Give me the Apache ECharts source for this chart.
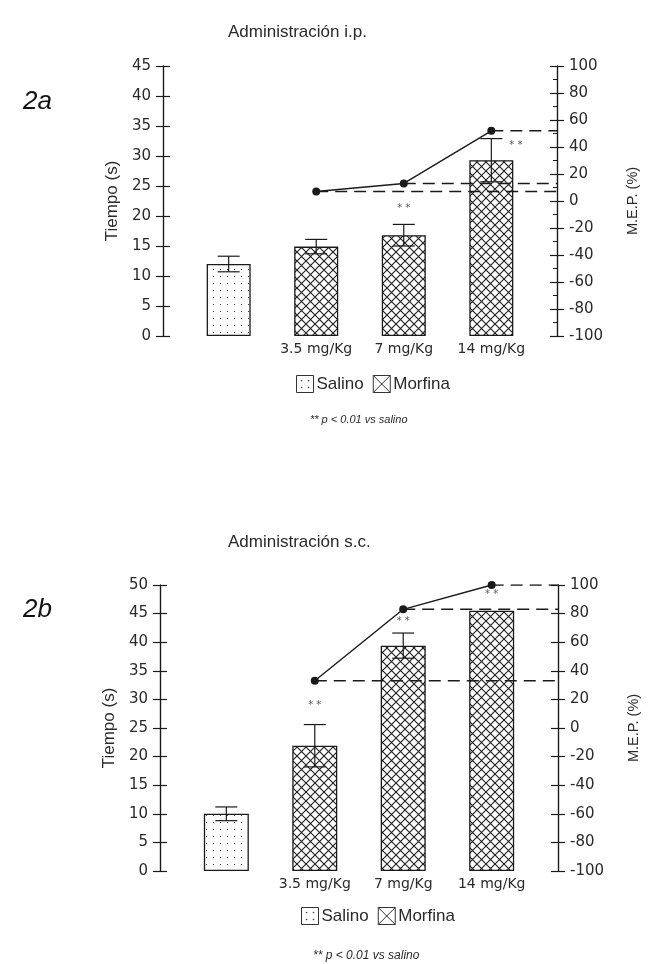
<!DOCTYPE html>
<html>
<head>
<meta charset="utf-8">
<script src="https://cdn.jsdelivr.net/npm/echarts@6/dist/echarts.min.js"></script>
<style>
  html, body { margin: 0; padding: 0; background: #fff; }
  #main { width: 649px; height: 964px; }
</style>
</head>
<body>
<div id="main"></div>
<script>
// dosis (eje x)
const doses = ['', '3.5 mg/Kg', '7 mg/Kg', '14 mg/Kg'];
const xPos = [1, 2, 3, 4];
const xMin = 0.25, xMax = 4.75;

// 2a - administración i.p.
const ipMean = [12.0, 14.9, 16.8, 29.3];
const ipSem = [1.3, 1.2, 1.8, 3.6];
const ipMep = [null, 7, 13, 52];
const ipSig = [[3, 21.2], [4.28, 31.8]];

// 2b - administración s.c.
const scMean = [10.0, 21.9, 39.4, 45.5];
const scSem = [1.2, 3.7, 2.2, null];
const scMep = [null, 33, 83, 100];
const scSig = [[2, 28.9], [3, 43.7], [4, 48.4]];

// escalas
const ipTiempo = {min: 0, max: 45, interval: 5};
const scTiempo = {min: 0, max: 50, interval: 5};
const mepAxis = {min: -100, max: 100, interval: 20};

const INK = '#1a1a1a';
const TXT = '#2a2a2a';

// tramas de relleno
function hatch() {
  const c = document.createElement('canvas');
  c.width = c.height = 9;
  const ctx = c.getContext('2d');
  ctx.fillStyle = '#fff';
  ctx.fillRect(0, 0, 9, 9);
  ctx.strokeStyle = '#1e1e1e';
  ctx.lineWidth = 1.1;
  ctx.beginPath();
  ctx.moveTo(-1, -1); ctx.lineTo(10, 10);
  ctx.moveTo(10, -1); ctx.lineTo(-1, 10);
  ctx.stroke();
  return c;
}
function dots() {
  const c = document.createElement('canvas');
  c.width = c.height = 7;
  const ctx = c.getContext('2d');
  ctx.fillStyle = '#fff';
  ctx.fillRect(0, 0, 7, 7);
  ctx.fillStyle = '#444';
  ctx.fillRect(3, 3, 1, 1);
  return c;
}
const morfinaFill = {image: hatch(), repeat: 'repeat'};
const salinoFill = {image: dots(), repeat: 'repeat'};

function yAxes(g, tiempo, minor) {
  const common = {
    gridIndex: g, type: 'value',
    splitLine: {show: false},
    axisLine: {show: true, lineStyle: {color: INK, width: 1.2}},
    axisTick: {show: true, length: 7, lineStyle: {color: INK, width: 1.2}},
    axisLabel: {color: TXT, fontFamily: 'DejaVu Sans', fontSize: 15, margin: 12}
  };
  return [
    Object.assign({}, common, tiempo, {
      position: 'left', name: 'Tiempo (s)', nameLocation: 'middle', nameGap: 42, nameRotate: 90,
      nameTextStyle: {color: TXT, fontFamily: 'Liberation Sans', fontSize: 17}
    }),
    Object.assign({}, common, tiempo, {
      position: 'left', axisTick: {show: true, inside: true, length: 7, lineStyle: {color: INK, width: 1.2}},
      axisLabel: {show: false}
    }),
    Object.assign({}, common, mepAxis, {
      position: 'right', name: 'M.E.P. (%)', nameLocation: 'middle', nameGap: 68, nameRotate: 90,
      nameTextStyle: {color: TXT, fontFamily: 'Liberation Sans', fontSize: 14.5}
    }),
    Object.assign({}, common, mepAxis, {
      position: 'right', axisTick: {show: true, inside: true, length: 7, lineStyle: {color: INK, width: 1.2}},
      minorTick: {show: minor, splitNumber: 2, length: 4, lineStyle: {color: INK, width: 1}},
      axisLabel: {show: false}
    })
  ];
}

function panel(g, mean, sem, mep, sig, barW) {
  const yi = g * 4;
  const out = [];
  const barStyle = (fill) => ({color: fill, borderColor: INK, borderWidth: 1.3});
  out.push({
    name: 'Salino', type: 'bar', xAxisIndex: g, yAxisIndex: yi,
    barWidth: barW, barGap: '-100%',
    data: [[xPos[0], mean[0]]],
    itemStyle: barStyle(salinoFill)
  });
  out.push({
    name: 'Morfina', type: 'bar', xAxisIndex: g, yAxisIndex: yi,
    barWidth: barW, barGap: '-100%',
    data: xPos.slice(1).map((x, i) => [x, mean[i + 1]]),
    itemStyle: barStyle(morfinaFill),
    label: {
      show: true, position: 'bottom', distance: 6,
      formatter: p => doses[p.dataIndex + 1],
      color: TXT, fontFamily: 'DejaVu Sans', fontSize: 14
    }
  });
  // barras de error
  const err = [];
  xPos.forEach((x, i) => { if (sem[i] != null) err.push([x, mean[i] - sem[i], mean[i] + sem[i]]); });
  out.push({
    type: 'custom', xAxisIndex: g, yAxisIndex: yi, z: 5,
    encode: {x: 0, y: [1, 2]},
    data: err,
    renderItem: function (params, api) {
      const hi = api.coord([api.value(0), api.value(2)]);
      const lo = api.coord([api.value(0), api.value(1)]);
      const h = 11;
      const st = {stroke: INK, lineWidth: 1.2};
      return {
        type: 'group', children: [
          {type: 'line', shape: {x1: hi[0], y1: hi[1], x2: lo[0], y2: lo[1]}, style: st},
          {type: 'line', shape: {x1: hi[0] - h, y1: hi[1], x2: hi[0] + h, y2: hi[1]}, style: st},
          {type: 'line', shape: {x1: lo[0] - h, y1: lo[1], x2: lo[0] + h, y2: lo[1]}, style: st}
        ]
      };
    }
  });
  // M.E.P.
  const pts = [];
  xPos.forEach((x, i) => { if (mep[i] != null) pts.push([x, mep[i]]); });
  pts.forEach(p => {
    out.push({
      type: 'line', xAxisIndex: g, yAxisIndex: yi + 2, z: 6,
      data: [p, [xMax, p[1]]], symbol: 'none',
      lineStyle: {color: INK, width: 1.6, type: [12, 7]}
    });
  });
  out.push({
    type: 'line', xAxisIndex: g, yAxisIndex: yi + 2, z: 7,
    data: pts, symbol: 'circle', symbolSize: 8,
    itemStyle: {color: INK}, lineStyle: {color: INK, width: 1.4}
  });
  // ** p < 0.01
  out.push({
    type: 'scatter', xAxisIndex: g, yAxisIndex: yi, z: 8,
    data: sig, symbolSize: 1, itemStyle: {color: 'rgba(0,0,0,0)'},
    label: {show: true, position: 'inside', formatter: '* *', color: TXT, fontFamily: 'DejaVu Sans', fontSize: 10}
  });
  return out;
}

const legendItems = [
  {name: 'Salino', icon: 'path://M0,0H16V16H0Z M4.5,4.5h0.6v0.6h-0.6Z M11,4.5h0.6v0.6h-0.6Z M4.5,11h0.6v0.6h-0.6Z M11,11h0.6v0.6h-0.6Z',
    itemStyle: {color: '#fff', borderColor: '#333', borderWidth: 1}},
  {name: 'Morfina', icon: 'path://M0,0H16V16H0Z M0,0L16,16 M16,0L0,16',
    itemStyle: {color: '#fff', borderColor: '#333', borderWidth: 1}}
];
function legendAt(left, top) {
  return {
    left: left, top: top, padding: 0, itemWidth: 17, itemHeight: 17, itemGap: 9,
    data: legendItems,
    textStyle: {color: TXT, fontFamily: 'Liberation Sans', fontSize: 17, padding: [0, 0, 0, -2]}
  };
}

function label(text, left, top, style) {
  return {text: text, left: left, top: top, padding: 0,
    textStyle: Object.assign({color: TXT, fontFamily: 'Liberation Sans', fontWeight: 'normal'}, style)};
}

const chart = echarts.init(document.getElementById('main'), null, {renderer: 'canvas'});
chart.setOption({
  animation: false,
  backgroundColor: '#fff',
  title: [
    label('Administración i.p.', 228, 24, {fontSize: 17}),
    label('2a', 23, 89, {fontSize: 26, fontStyle: 'italic', color: '#111'}),
    label('** p < 0.01 vs salino', 310, 414, {fontSize: 11, fontStyle: 'italic'}),
    label('Administración s.c.', 228, 534, {fontSize: 17}),
    label('2b', 23, 597, {fontSize: 26, fontStyle: 'italic', color: '#111'}),
    label('** p < 0.01 vs salino', 313, 950, {fontSize: 12, fontStyle: 'italic'})
  ],
  legend: [legendAt(296, 375), legendAt(301, 907)],
  grid: [
    {left: 163, top: 66, width: 394, height: 270},
    {left: 160, top: 585, width: 405, height: 286}
  ],
  xAxis: [
    {gridIndex: 0, type: 'value', min: xMin, max: xMax, show: false},
    {gridIndex: 1, type: 'value', min: xMin, max: xMax, show: false}
  ],
  yAxis: yAxes(0, ipTiempo, true).concat(yAxes(1, scTiempo, false)),
  series: panel(0, ipMean, ipSem, ipMep, ipSig, 44).concat(panel(1, scMean, scSem, scMep, scSig, 45))
});
</script>
</body>
</html>
